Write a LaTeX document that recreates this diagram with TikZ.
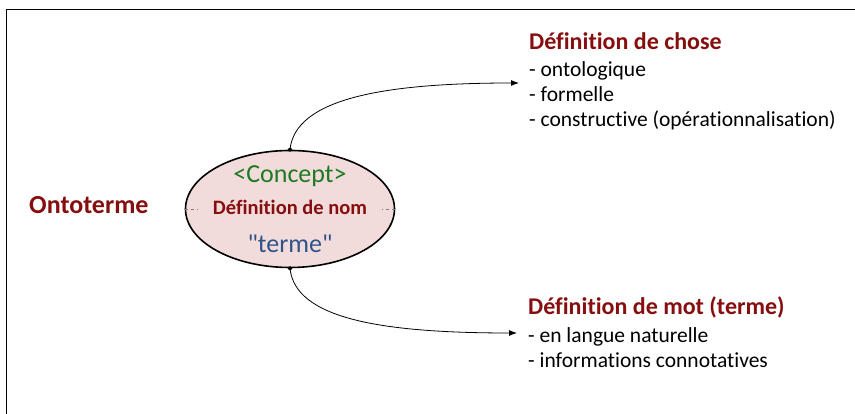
\documentclass[tikz,border=0pt]{standalone}
\usepackage{fontspec}
\setmainfont{Carlito}[Ligatures={TeX,NoCommon}]
\usepackage{tikz}
\usetikzlibrary{shapes,arrows.meta}
\usetikzlibrary{positioning}
\definecolor{darkred}{RGB}{134,14,14}
\definecolor{conceptgreen}{RGB}{30,122,34}
\definecolor{termblue}{RGB}{46,84,138}
\definecolor{pinkfill}{RGB}{242,220,219}

\begin{document}
\begin{tikzpicture}[x=1pt, y=1pt,
	concept_node/.style={ellipse,draw,line width=1.6pt,fill=pinkfill,minimum width=209pt,minimum height=117pt,inner sep=0pt},
	big_text/.style={font=\fontsize{26}{30}\selectfont, anchor=base, inner sep=0pt},
	head_text/.style={font=\bfseries\fontsize{24}{28}\selectfont, text=darkred, anchor=base west, inner sep=0pt},
	item_text/.style={font=\fontsize{21.5}{25}\selectfont, anchor=base west, inner sep=0pt},
	link/.style={line width=0.8pt, -{Latex[length=8pt,width=6pt]}}]
				\useasboundingbox (0,0) rectangle (855,414);
				\draw[line width=1.4pt] (6.5,-20) -- (6.5,404.5) -- (870,404.5);
				
				\node[concept_node] (concept) at (290,205) {};
				\node[big_text, text=conceptgreen] (cname) at (290,231) {<Concept>};
				\node[font=\bfseries\fontsize{20.5}{24}\selectfont, text=darkred, anchor=base, inner sep=0pt] (defnom) at (290,199) {Définition de nom};
				\node[big_text, text=termblue] (terme) at (290,161) {\textquotedbl terme\textquotedbl};
				\node[font=\bfseries\fontsize{26}{30}\selectfont, text=darkred, anchor=base west, inner sep=0pt] (onto) at (29,200) {Ontoterme};
				
				\draw[gray, line width=0.8pt, dash pattern=on 3pt off 3pt] (concept.west) -- +(13,0);
				\draw[gray, line width=0.8pt, dash pattern=on 3pt off 3pt] (concept.east) -- +(-13,0);
				
				\node[head_text] (chose) at (529,364) {Définition de chose};
				\node[item_text] (chose1) at (529,337) {- ontologique};
				\node[item_text] (chose2) at (529,312) {- formelle};
				\node[item_text] (chose3) at (529,287) {- constructive (opérationnalisation)};
				
				\node[head_text] (mot) at (528,99) {Définition de mot (terme)};
				\node[item_text] (mot1) at (528,71) {- en langue naturelle};
				\node[item_text] (mot2) at (528,46) {- informations connotatives};
				
				\coordinate (chose_in) at (519,331);
				\coordinate (mot_in) at (517,81);
				\fill (concept.north) circle (2pt);
				\fill (concept.south) circle (2pt);
				\draw[link] (concept.north) .. controls +(5,50) and (380,331) .. (chose_in);
				\draw[link] (concept.south) .. controls +(5,-50) and (380,81) .. (mot_in);
			\end{tikzpicture}
\end{document}
